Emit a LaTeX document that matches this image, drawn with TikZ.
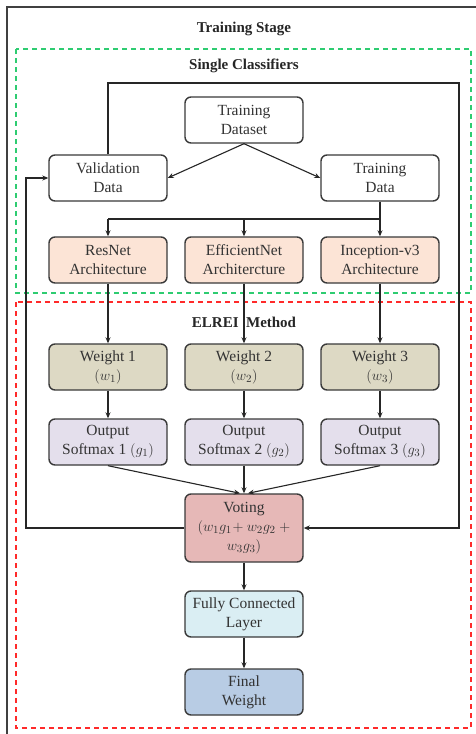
\documentclass[tikz,border=0pt]{standalone}
\usepackage{fontspec}
\setmainfont{Liberation Serif}
\usetikzlibrary{arrows.meta}
\definecolor{edgegray}{HTML}{3A3A3A}
\definecolor{archfill}{HTML}{FCE4D6}
\definecolor{wfill}{HTML}{DDD9C4}
\definecolor{ofill}{HTML}{E4DFEC}
\definecolor{vfill}{HTML}{E6B8B7}
\definecolor{fcfill}{HTML}{DAEEF3}
\definecolor{fwfill}{HTML}{B8CCE4}
\definecolor{dashgreen}{HTML}{2ECC71}
\definecolor{dashred}{HTML}{FF2A2A}
\tikzset{
  box/.style={draw=edgegray, line width=1.4pt, rounded corners=6pt,
    minimum width=118pt, minimum height=46pt, align=center, text=black!80,
    font=\fontsize{15.5}{19}\selectfont, inner sep=1pt},
  conn/.style={draw=black!85, line width=1.1pt, -{Stealth[length=6pt,width=5pt]}},
  plain/.style={draw=black!85, line width=1.1pt},
  heading/.style={font=\fontsize{15}{17}\selectfont\bfseries, text=black!85},
}
\begin{document}
\begin{tikzpicture}[x=1pt, y=-1pt]
\useasboundingbox (0,0) rectangle (476,734);
\fill[white] (0,0) rectangle (476,734);
\begin{scope}
\clip (0,0) rectangle (476,734);
% outer frame of the training stage
\draw[line width=1.4pt, draw=black!75] (7,7) rectangle (490,750);
\end{scope}
% dashed group frames
\draw[dashgreen, line width=1.2pt, dash pattern=on 5pt off 4pt] (16,49) rectangle (471,293);
\draw[dashred, line width=1.2pt, dash pattern=on 5pt off 4pt] (16,302) rectangle (471,728);

\node[heading] (tstage) at (244,29) {Training Stage};
\node[heading] (single) at (244,66) {Single Classifiers};
\node[heading] (elrei) at (244,322) {ELREI\ \ Method};

% data preparation
\node[box, fill=white] (tds) at (244,120) {Training\\Dataset};
\node[box, fill=white] (val) at (108,178) {Validation\\Data};
\node[box, fill=white] (trn) at (380,178) {Training\\Data};

% base architectures
\node[box, fill=archfill] (res) at (108,260) {ResNet\\Architecture};
\node[box, fill=archfill] (eff) at (244,260) {EfficientNet\\Architercture};
\node[box, fill=archfill] (inc) at (380,260) {Inception-v3\\Architecture};

% weights
\node[box, fill=wfill] (w1) at (108,367) {Weight 1\\$(w_1)$};
\node[box, fill=wfill] (w2) at (244,367) {Weight 2\\$(w_2)$};
\node[box, fill=wfill] (w3) at (380,367) {Weight 3\\$(w_3)$};

% softmax outputs
\node[box, fill=ofill] (o1) at (108,442) {Output\\Softmax 1 $(g_1)$};
\node[box, fill=ofill] (o2) at (244,442) {Output\\Softmax 2 $(g_2)$};
\node[box, fill=ofill] (o3) at (380,442) {Output\\Softmax 3 $(g_3)$};

% ensemble
\node[box, fill=vfill, minimum height=68pt] (vote) at (244,528)
  {Voting\\$(w_1g_1\!+w_2g_2\ +$\\$w_3g_3)$};
\node[box, fill=fcfill] (fc) at (244,614) {Fully Connected\\Layer};
\node[box, fill=fwfill] (fw) at (244,692) {Final\\Weight};

% connectors
\draw[conn] (tds.south) -- (val.east);
\draw[conn] (tds.south) -- (trn.west);

\coordinate (split) at (380,219);
\draw[plain] (trn.south) -- (split);
\draw[plain] (split) -- (108,219);
\draw[conn] (108,219) -- (res.north);
\draw[conn] (244,219) -- (eff.north);
\draw[conn] (split) -- (inc.north);

\draw[conn] (res) -- (w1);
\draw[conn] (eff) -- (w2);
\draw[conn] (inc) -- (w3);
\draw[conn] (w1) -- (o1);
\draw[conn] (w2) -- (o2);
\draw[conn] (w3) -- (o3);

\draw[conn] (o1.south) -- ([xshift=-4pt]vote.north);
\draw[conn] (o2.south) -- (vote.north);
\draw[conn] (o3.south) -- ([xshift=4pt]vote.north);

\draw[conn] (vote) -- (fc);
\draw[conn] (fc) -- (fw);

% feedback loops around the classifiers
\draw[conn] (val.north) |- (459,83) |- (vote.east);
\draw[conn] (vote.west) -| (26,178) -- (val.west);
\end{tikzpicture}
\end{document}
